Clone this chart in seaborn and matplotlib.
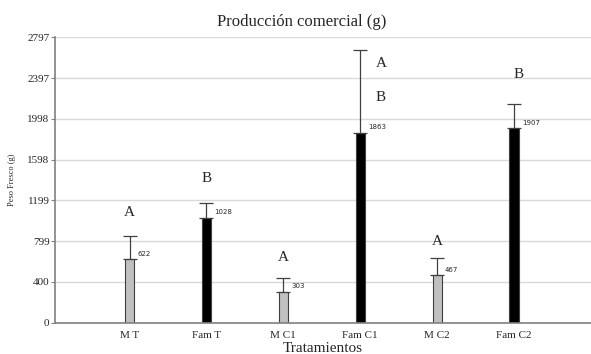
import matplotlib
matplotlib.use('Agg')
import matplotlib.pyplot as plt
import pandas as pd
import seaborn as sns

tratamientos = ['M T', 'Fam T', 'M C1', 'Fam C1', 'M C2', 'Fam C2']
peso = [622, 1028, 303, 1863, 467, 1907]
error_sup = [229, 145, 137, 807, 169, 235]
colores = ['#c0c0c0', '#000000', '#c0c0c0', '#000000', '#c0c0c0', '#000000']
letras = [['A'], ['B'], ['A'], ['A', 'B'], ['A'], ['B']]
letras_y = [[1076], [1418], [636], [2540, 2210], [792], [2430]]
letras_dx = [0, 0, 0, 0.27, 0, 0.06]
yticks = [0, 400, 799, 1199, 1598, 1998, 2397, 2797]

sns.set_style('white')
plt.rcParams['font.family'] = ['Liberation Serif', 'DejaVu Serif']

df = pd.DataFrame({'tratamiento': tratamientos, 'peso': peso})

fig = plt.figure(figsize=(5.91, 3.54), dpi=100)
ax = fig.add_axes([0.093, 0.088, 0.907, 0.807])
ax.set_axisbelow(True)
ax.grid(True, color='#d9d9d9', linewidth=1)

sns.barplot(data=df, x='tratamiento', y='peso', hue='tratamiento', palette=colores,
            width=0.12, errorbar=None, legend=False, ax=ax,
            edgecolor='#404040', linewidth=0.8)
ax.errorbar(range(len(peso)), peso, yerr=[[0] * len(peso), error_sup], fmt='none',
            ecolor='#404040', elinewidth=0.9, capsize=5, capthick=0.9)

for i, v in enumerate(peso):
    ax.text(i + 0.1, v + 25, str(v), fontsize=5, family='DejaVu Sans', va='bottom', ha='left')
    for l, ly in zip(letras[i], letras_y[i]):
        ax.text(i + letras_dx[i], ly, l, fontsize=11, ha='center', va='center')

ax.set_xlim(-0.97, 6.0)
ax.set_ylim(0, 2797)
ax.set_yticks(yticks)
ax.set_yticklabels([str(t) for t in yticks], fontsize=8)
ax.tick_params(axis='x', labelsize=8, length=0, pad=6)
ax.tick_params(axis='y', length=3, width=0.8, color='#808080', left=True, pad=1)
for s in ['top', 'right']:
    ax.spines[s].set_visible(False)
ax.spines['left'].set_color('#808080')
ax.spines['bottom'].set_color('#808080')
ax.spines['left'].set_linewidth(1.2)
ax.spines['bottom'].set_linewidth(1.2)

ax.set_xlabel('Tratamientos', fontsize=11, labelpad=1)
ax.set_ylabel('Peso Fresco (g)', fontsize=6, labelpad=8)
ax.set_title('Producción comercial (g)', fontsize=12, pad=8, x=0.46)

fig.savefig('out.png', dpi=100)
